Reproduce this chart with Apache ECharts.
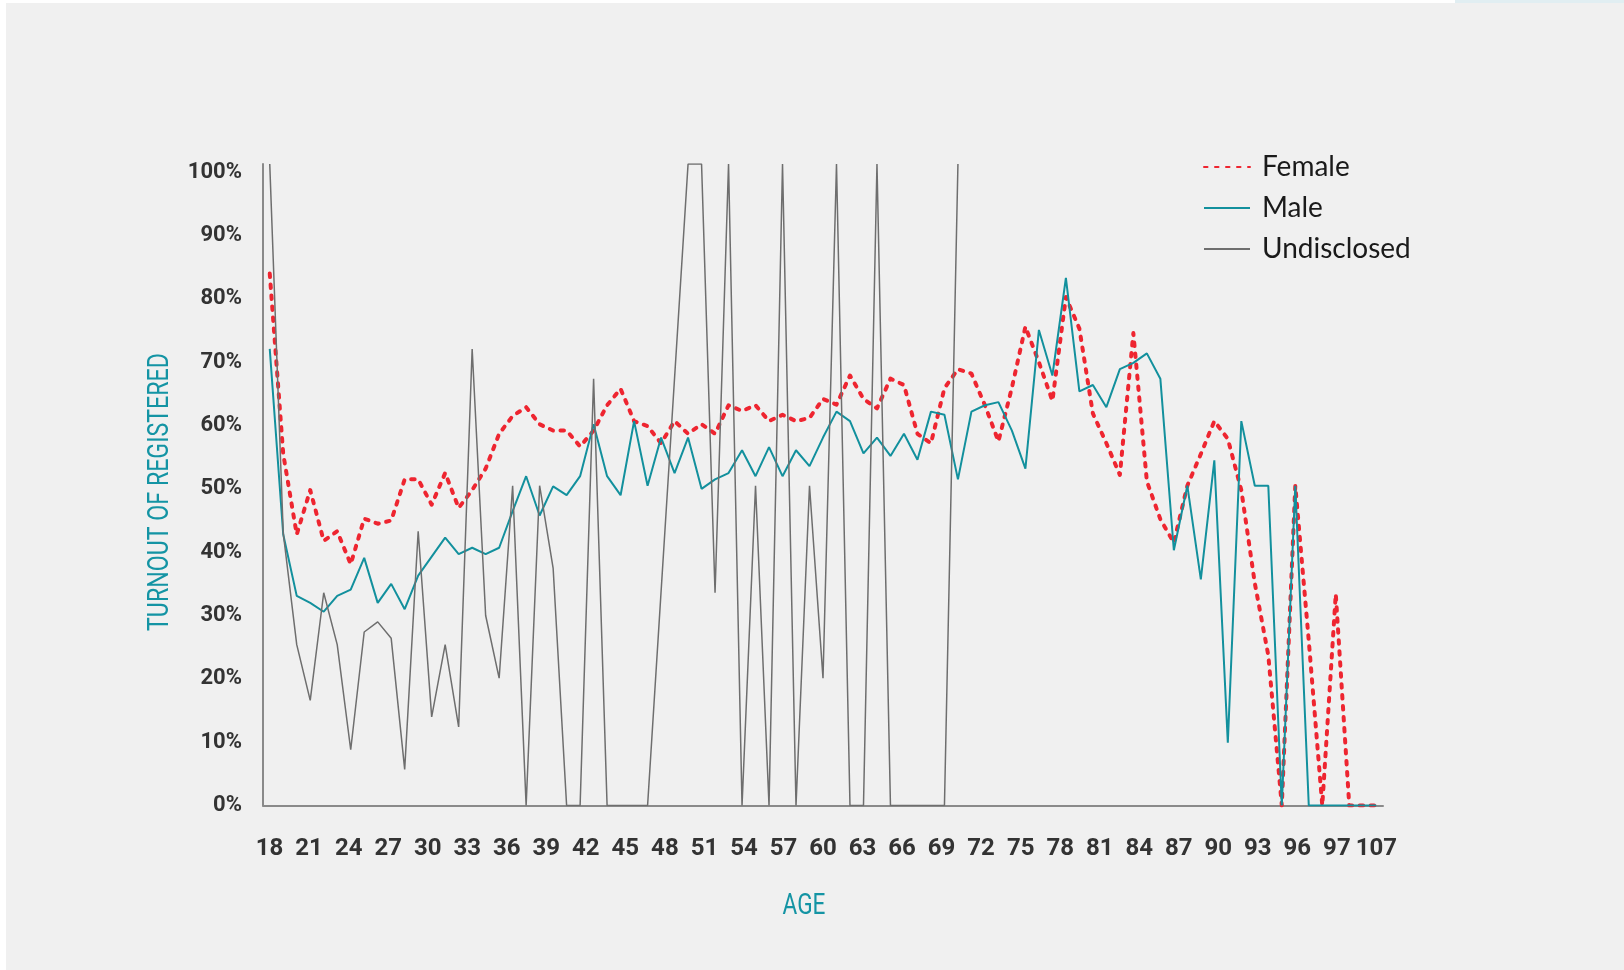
<!DOCTYPE html>
<html><head><meta charset="utf-8">
<script src="https://cdn.jsdelivr.net/npm/echarts@6/dist/echarts.min.js"></script>
<style>html,body{margin:0;padding:0;background:#fff;}#c{width:1624px;height:970px;}</style>
</head><body><div id="c"></div>
<script>
// Age tick labels of the category axis (source list is unsorted after 96; every 3rd shown)
const ageTicks = ['18','19','20','21','22','23','24','25','26','27','28','29','30','31','32','33','34','35','36','37',
  '38','39','40','41','42','43','44','45','46','47','48','49','50','51','52','53','54','55','56','57',
  '58','59','60','61','62','63','64','65','66','67','68','69','70','71','72','73','74','75','76','77',
  '78','79','80','81','82','83','84','85','86','87','88','89','90','91','92','93','94','95','96',
  '98','99','97','100','101','107'];

// 83 plotted records per series (spread evenly across the axis, as in the original)
const female = [0.84,0.555,0.428,0.498,0.418,0.433,0.381,0.453,0.445,0.450,
  0.515,0.515,0.475,0.525,0.470,0.498,0.532,0.587,0.615,0.629,
  0.602,0.592,0.592,0.567,0.592,0.632,0.658,0.607,0.599,0.572,
  0.607,0.587,0.602,0.587,0.632,0.623,0.632,0.607,0.617,0.607,
  0.612,0.642,0.633,0.679,0.642,0.627,0.674,0.664,0.587,0.572,
  0.659,0.689,0.682,0.632,0.575,0.66,0.756,0.70,0.639,0.803,
  0.753,0.619,0.572,0.522,0.746,0.512,0.452,0.415,0.505,0.555,
  0.607,0.579,0.498,0.351,0.237,0,0.505,0.26,0,0.334,
  0,0,0];

const male = [0.721,0.428,0.331,0.320,0.306,0.331,0.341,0.391,0.320,0.350,
  0.310,0.363,0.393,0.423,0.397,0.407,0.397,0.407,0.465,0.520,
  0.458,0.504,0.490,0.520,0.602,0.520,0.490,0.607,0.505,0.581,
  0.525,0.581,0.500,0.515,0.525,0.561,0.520,0.566,0.520,0.561,
  0.536,0.581,0.622,0.607,0.556,0.581,0.552,0.587,0.546,0.622,
  0.617,0.515,0.622,0.632,0.637,0.592,0.532,0.751,0.679,0.833,
  0.654,0.664,0.629,0.689,0.699,0.714,0.674,0.403,0.505,0.357,
  0.545,0.099,0.607,0.505,0.505,0,0.505,0,0,0,
  0,0,0];

const undisclosed = [1.013,0.43,0.254,0.166,0.336,0.254,0.088,0.274,0.290,0.264,
  0.057,0.433,0.140,0.254,0.124,0.721,0.300,0.201,0.505,0,
  0.505,0.375,0,0,0.674,0,0,0,0,null,
  null,1.013,1.013,0.336,1.013,0,0.505,0,1.013,0,
  0.505,0.201,1.013,0,0,1.013,0,0,0,0,
  0,1.013,null,null,null,null,null,null,null,null,
  null,null,null,null,null,null,null,null,null,null,
  null,null,null,null,null,null,null,null,null,null,
  null,null,null];

const recordIds = female.map(function(_, i){ return 'R' + (i + 1); });
const seriesNames = ['Female','Male','Undisclosed'];

const chart = echarts.init(document.getElementById('c'), null, {renderer:'canvas'});
chart.setOption({
  animation:false,
  backgroundColor:'#ffffff',
  graphic:[
    {type:'rect', z:-100, silent:true, shape:{x:6,y:3,width:1618,height:967}, style:{fill:'#f0f0f0'}},
    {type:'rect', z:-100, silent:true, shape:{x:1455,y:0,width:169,height:3}, style:{fill:'#e1eef2'}},
    {type:'text', x:161, y:492, rotation:Math.PI/2, scaleX:0.8,
      style:{text:'TURNOUT OF REGISTERED', fill:'#1494a4', fontSize:29, fontFamily:'Roboto', align:'center', verticalAlign:'middle'}},
    {type:'text', x:804, y:907, scaleX:0.78,
      style:{text:'AGE', fill:'#1494a4', fontSize:29, fontFamily:'Roboto', align:'center', verticalAlign:'middle'}}
  ],
  grid:{left:263, right:241, top:164, bottom:164.5, containLabel:false},
  legend:{
    orient:'vertical', left:1203, top:152, padding:0, itemWidth:46, itemHeight:14, itemGap:11,
    data:seriesNames,
    itemStyle:{color:'rgba(0,0,0,0)', borderColor:'rgba(0,0,0,0)', borderWidth:0, opacity:0},
    textStyle:{fontFamily:'Lato', fontSize:28, color:'#1a1a1a', lineHeight:30, padding:[0,0,0,7]}
  },
  xAxis:[
    {type:'category', data:recordIds, boundaryGap:true, show:false, position:'bottom'},
    {type:'category', data:ageTicks, boundaryGap:true, position:'bottom',
      axisLine:{lineStyle:{color:'#8a8a8a', width:2}},
      axisTick:{show:false},
      axisLabel:{interval:2, margin:31, color:'#333333', fontFamily:'Roboto', fontWeight:'bold', fontSize:24},
      splitLine:{show:false}}
  ],
  yAxis:{
    type:'value', min:0, max:1.013, interval:0.1,
    axisLine:{show:true, lineStyle:{color:'#8a8a8a', width:2}},
    axisTick:{show:false},
    splitLine:{show:false},
    axisLabel:{showMaxLabel:false, margin:21, color:'#333333', fontFamily:'Roboto', fontWeight:'bold', fontSize:22,
      formatter:function(v){return Math.round(v*100)+'%';}}
  },
  series:[
    {name:'Female', type:'line', xAxisIndex:0, data:female, symbol:'none',
      lineStyle:{color:'#ee2530', width:4, type:[3.5,7.5], cap:'round', join:'round'}, itemStyle:{color:'#ee2530'}},
    {name:'Male', type:'line', xAxisIndex:0, data:male, symbol:'none',
      lineStyle:{color:'#12909d', width:2}, itemStyle:{color:'#12909d'}},
    {name:'Undisclosed', type:'line', xAxisIndex:0, data:undisclosed, symbol:'none', connectNulls:true,
      lineStyle:{color:'#6e6e6e', width:1.5}, itemStyle:{color:'#6e6e6e'}}
  ]
});
</script></body></html>
